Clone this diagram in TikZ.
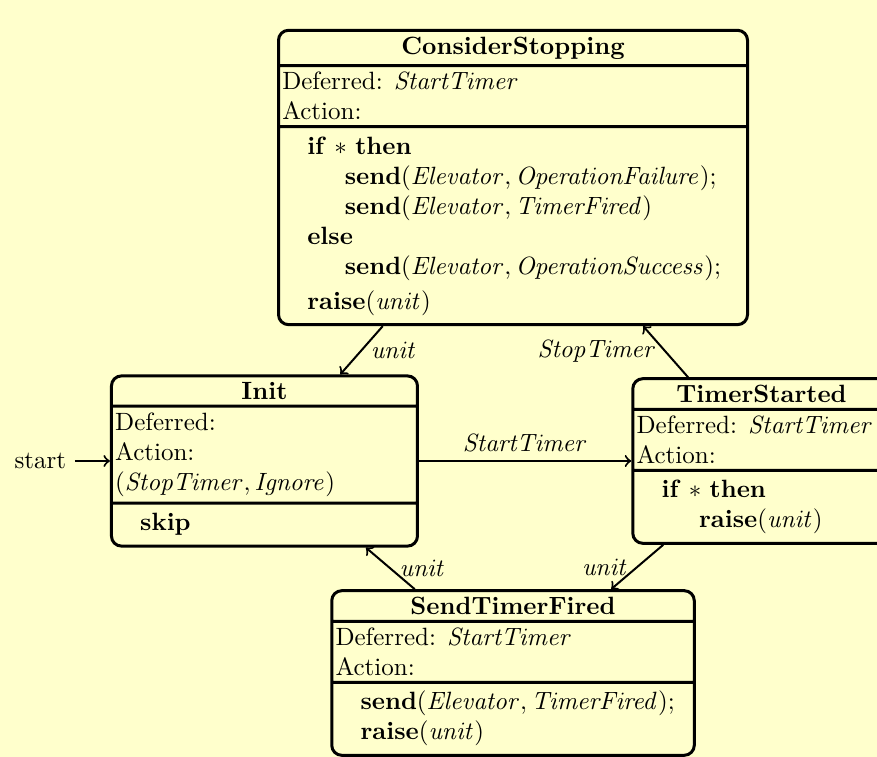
\documentclass[tikz,border=0pt]{standalone}
\usepackage{amsmath}
\usepackage{xcolor}
\usepackage{tikz}
\usetikzlibrary{shapes.multipart,positioning}

\definecolor{bgyellow}{RGB}{255,255,204}

\begin{document}
\begin{tikzpicture}[
        state/.style={rectangle split, rectangle split parts=3, draw, very thick, rounded corners=4pt, rectangle split part align={center,left,left}, align=left, inner xsep=1.5pt, inner ysep=2pt},
        trans/.style={->, thick}
    ]
        \path[use as bounding box, clip] (0,0) rectangle (12.329,10.642);
        \fill[bgyellow] (0,0) rectangle (12.329,10.642);

        \node[state, minimum width=187.6pt] (cs) at (7.212,8.147) {\textbf{ConsiderStopping}
            \nodepart{two} Deferred: $\mathit{StartTimer}$\\Action:
            \nodepart{three} \begin{tabular}{@{\hspace{10pt}}l}
            \textbf{if} $*$ \textbf{then}\\
            \hspace{15pt}\textbf{send}$(\mathit{Elevator}, \mathit{OperationFailure})$;\\
            \hspace{15pt}\textbf{send}$(\mathit{Elevator}, \mathit{TimerFired})$\\
            \textbf{else}\\
            \hspace{15pt}\textbf{send}$(\mathit{Elevator}, \mathit{OperationSuccess})$;\\[2pt]
            \textbf{raise}$(\mathit{unit})$
            \end{tabular}};
        \node[state, minimum width=122.4pt] (init) at (3.718,4.161) {\textbf{Init}
            \nodepart{two} Deferred:\\Action:\\$(\mathit{StopTimer}, \mathit{Ignore})$
            \nodepart{three} \begin{tabular}{@{\hspace{10pt}}l}
            \textbf{skip}
            \end{tabular}};
        \node[state, minimum width=103pt] (ts) at (10.706,4.161) {\textbf{TimerStarted}
            \nodepart{two} Deferred: $\mathit{StartTimer}$\\Action:
            \nodepart{three} \begin{tabular}{@{\hspace{10pt}}l}
            \textbf{if} $*$ \textbf{then}\\
            \hspace{15pt}\textbf{raise}$(\mathit{unit})$
            \end{tabular}};
        \node[state, minimum width=145pt] (stf) at (7.212,1.181) {\textbf{SendTimerFired}
            \nodepart{two} Deferred: $\mathit{StartTimer}$\\Action:
            \nodepart{three} \begin{tabular}{@{\hspace{10pt}}l}
            \textbf{send}$(\mathit{Elevator}, \mathit{TimerFired})$;\\
            \textbf{raise}$(\mathit{unit})$
            \end{tabular}};

        \node (start) [left=14pt of init] {start};

        \draw[trans] (start) -- (init);
        \draw[trans] (cs) -- node[right] {$\mathit{unit}$} (init);
        \draw[trans] (init) -- node[above] {$\mathit{StartTimer}$} (ts);
        \draw[trans] (ts) -- node[left] {$\mathit{StopTimer}$} (cs);
        \draw[trans] (ts) -- node[left] {$\mathit{unit}$} (stf);
        \draw[trans] (stf) -- node[right] {$\mathit{unit}$} (init);
    \end{tikzpicture}
\end{document}
